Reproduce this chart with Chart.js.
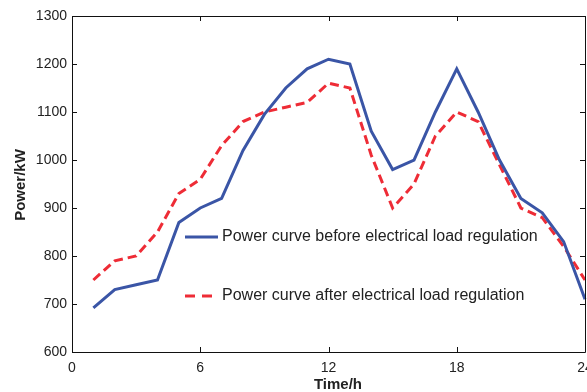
<!DOCTYPE html>
<html><head><meta charset="utf-8">
<script src="https://cdn.jsdelivr.net/npm/chart.js@4"></script>
<style>html,body{margin:0;padding:0;background:#fff;}#wrap{width:587px;height:392px;}</style>
</head><body><div id="wrap"><canvas id="c" width="587" height="392"></canvas></div>
<script>
const hours = [1,2,3,4,5,6,7,8,9,10,11,12,13,14,15,16,17,18,19,20,21,22,23,24];
const beforeReg = [692,730,740,750,870,900,920,1020,1095,1150,1190,1210,1200,1060,980,1000,1100,1190,1100,1000,920,890,830,710];
const afterReg = [750,790,800,850,930,960,1030,1080,1100,1110,1120,1160,1150,1010,900,950,1050,1100,1080,990,900,880,820,750];
const xTicks = [0,6,12,18,24];
const yTicks = [600,700,800,900,1000,1100,1200,1300];
const seriesNames = ['Power curve before electrical load regulation','Power curve after electrical load regulation'];
const xTitle = 'Time/h';
const yTitle = 'Power/kW';

const BLUE = '#3a55a6';
const RED = '#ee2c36';
const TXT = '#222';

const framePlugin = {
  id: 'frame',
  afterDraw(chart) {
    const ctx = chart.ctx, a = chart.chartArea;
    const xs = chart.scales.x, ys = chart.scales.y;
    ctx.save();
    ctx.strokeStyle = '#111';
    ctx.lineWidth = 1;
    ctx.beginPath();
    ctx.rect(Math.round(a.left)+0.5, Math.round(a.top)+0.5, Math.round(a.right-a.left), Math.round(a.bottom-a.top));
    ctx.stroke();
    const tl = 5;
    ctx.beginPath();
    xTicks.forEach(v => {
      const px = Math.round(xs.getPixelForValue(v)) + 0.5;
      ctx.moveTo(px, a.bottom); ctx.lineTo(px, a.bottom - tl);
      ctx.moveTo(px, a.top); ctx.lineTo(px, a.top + tl);
    });
    yTicks.forEach(v => {
      const py = Math.round(ys.getPixelForValue(v)) + 0.5;
      ctx.moveTo(a.left, py); ctx.lineTo(a.left + tl, py);
      ctx.moveTo(a.right, py); ctx.lineTo(a.right - tl, py);
    });
    ctx.stroke();
    // titles
    ctx.fillStyle = TXT;
    ctx.font = 'bold 15px "Liberation Sans", Arial, sans-serif';
    ctx.textAlign = 'center';
    ctx.textBaseline = 'middle';
    ctx.fillText(xTitle, 338, 385);
    ctx.save();
    ctx.translate(21, 185);
    ctx.rotate(-Math.PI/2);
    ctx.fillText(yTitle, 0, 0);
    ctx.restore();
    // legend
    const rows = [{y:237, color:BLUE, dash:[]},{y:296, color:RED, dash:[10,7]}];
    rows.forEach((r,i) => {
      ctx.save();
      ctx.strokeStyle = r.color;
      ctx.lineWidth = 3;
      ctx.setLineDash(r.dash);
      ctx.beginPath();
      ctx.moveTo(185, r.y); ctx.lineTo(218, r.y);
      ctx.stroke();
      ctx.restore();
      ctx.fillStyle = TXT;
      ctx.font = '16px "Liberation Sans", Arial, sans-serif';
      ctx.textAlign = 'left';
      ctx.textBaseline = 'middle';
      ctx.fillText(seriesNames[i], 222, r.y);
    });
    ctx.restore();
  }
};

new Chart(document.getElementById('c'), {
  type: 'line',
  data: {
    datasets: [
      { label: seriesNames[0], data: hours.map((h,i)=>({x:h,y:beforeReg[i]})), borderColor: BLUE, borderWidth: 3, pointRadius: 0, fill: false, tension: 0 },
      { label: seriesNames[1], data: hours.map((h,i)=>({x:h,y:afterReg[i]})), borderColor: RED, borderWidth: 3, borderDash: [9,5], pointRadius: 0, fill: false, tension: 0 }
    ]
  },
  options: {
    responsive: false,
    animation: false,
    devicePixelRatio: 1,
    clip: false,
    layout: { padding: { top: 16, right: 2, left: 0, bottom: 0 } },
    plugins: { legend: { display: false }, tooltip: { enabled: false } },
    scales: {
      x: {
        type: 'linear', min: 0, max: 24,
        afterBuildTicks: s => { s.ticks = xTicks.map(v => ({value: v})); },
        afterFit: s => { s.height = 40; s.paddingLeft = 0; s.paddingRight = 0; },
        grid: { display: false, drawTicks: false },
        border: { display: false },
        ticks: { padding: 8, color: TXT, maxRotation: 0, autoSkip: false, callback: v => String(v), font: { size: 14, family: '"Liberation Sans", Arial, sans-serif' } }
      },
      y: {
        min: 600, max: 1300,
        afterBuildTicks: s => { s.ticks = yTicks.map(v => ({value: v})); },
        afterFit: s => { s.width = 72; s.paddingTop = 0; s.paddingBottom = 0; },
        grid: { display: false, drawTicks: false },
        border: { display: false },
        ticks: { padding: 5, color: TXT, autoSkip: false, callback: v => String(v), font: { size: 14, family: '"Liberation Sans", Arial, sans-serif' } }
      }
    }
  },
  plugins: [framePlugin]
});
</script>
</body></html>
